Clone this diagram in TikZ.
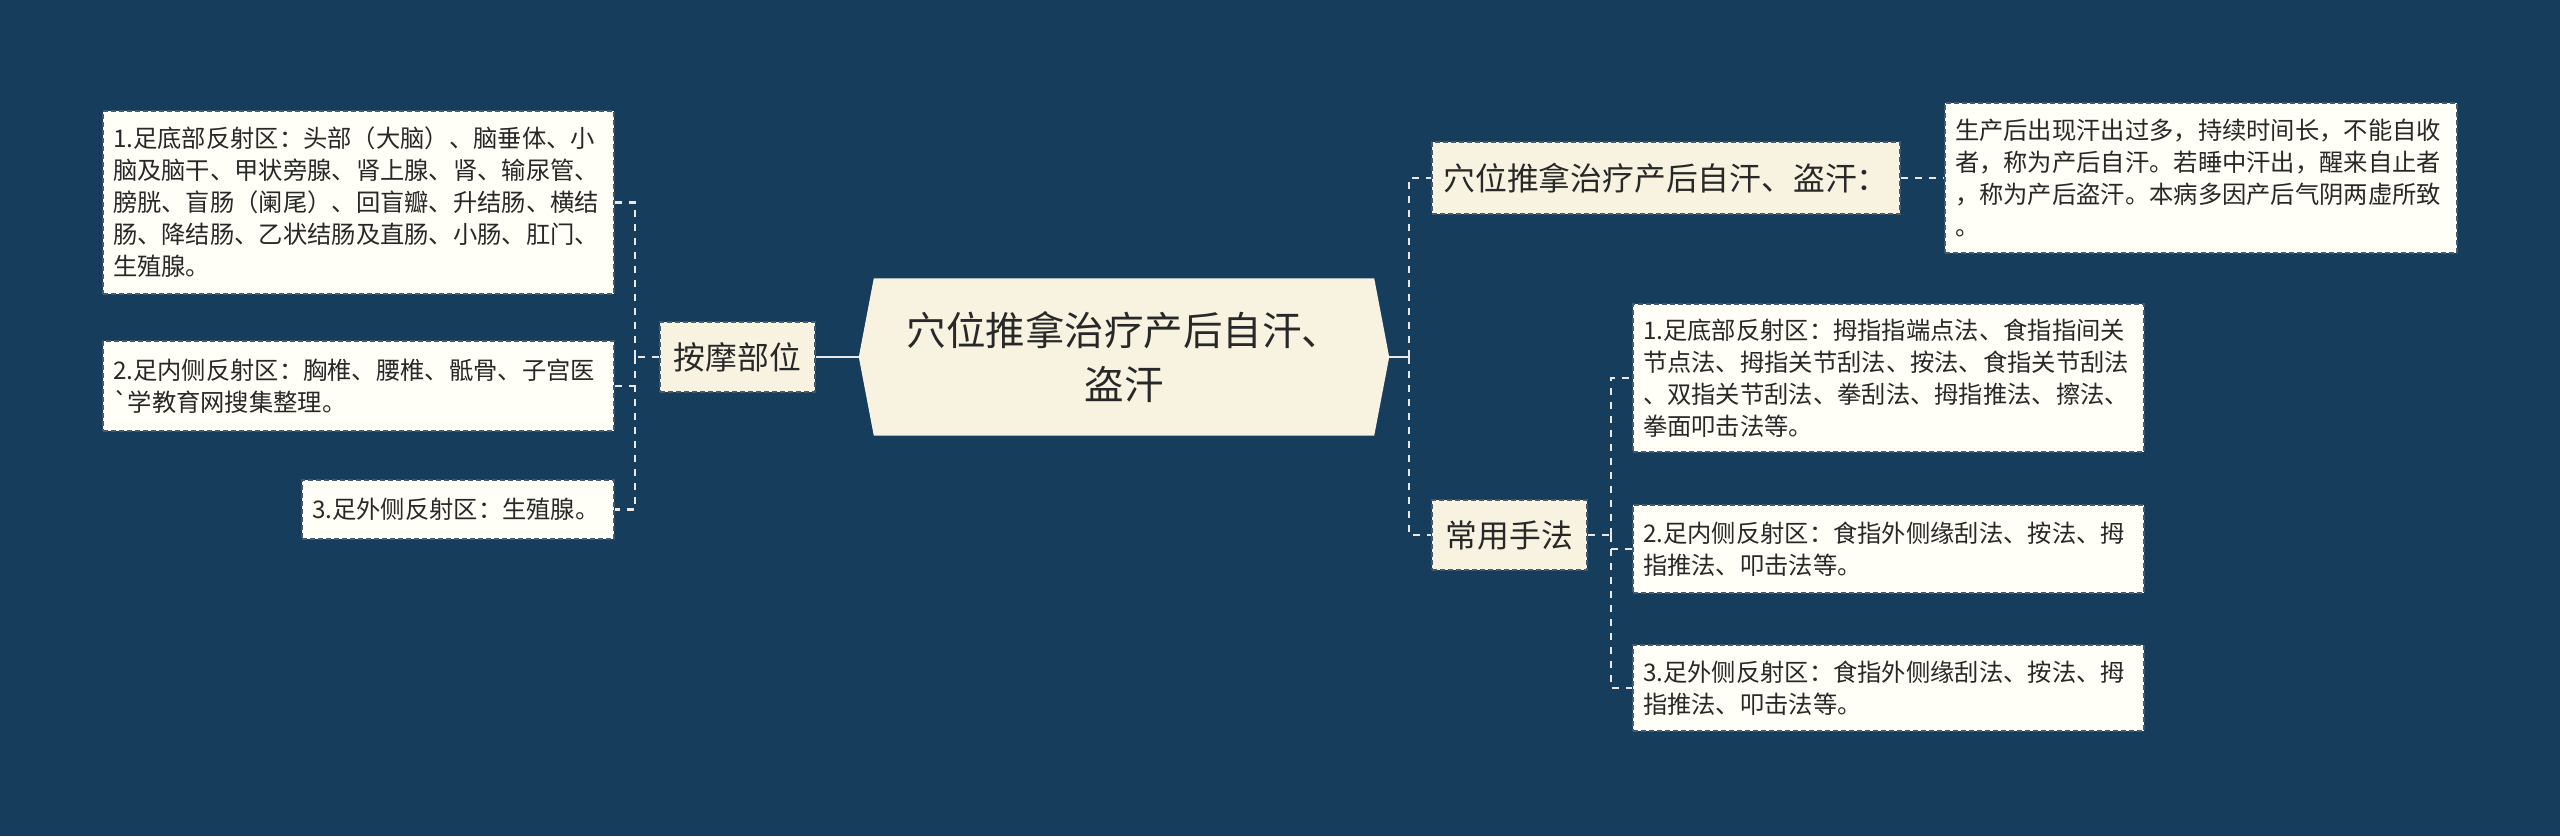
\documentclass[tikz,border=0pt]{standalone}
\usepackage{fontspec}
\newfontfamily\cjk{Noto Sans CJK SC}
\usetikzlibrary{backgrounds}
\definecolor{bgc}{RGB}{23,61,92}
\definecolor{midfill}{RGB}{248,243,224}
\definecolor{leaffill}{RGB}{255,254,247}
\definecolor{bordc}{RGB}{70,88,108}
\definecolor{linec}{RGB}{232,232,232}
\definecolor{txtc}{RGB}{40,40,40}
\newcommand\lffont{\cjk\fontsize{24.3pt}{32pt}\selectfont}
\newcommand\mdfont{\cjk\fontsize{31.8pt}{40pt}\selectfont}
\newcommand\rtfont{\cjk\fontsize{39.5pt}{54pt}\selectfont}
\tikzset{
  leaf/.style={draw=bordc, fill=leaffill, line width=1.5pt, dash pattern=on 5pt off 3pt,
    font=\lffont, text=txtc, align=left, inner xsep=10pt, inner ysep=8pt},
  mid/.style={draw=bordc, fill=midfill, line width=1.5pt, dash pattern=on 5pt off 3pt,
    font=\mdfont, text=txtc, align=center, inner sep=4pt},
  rootn/.style={font=\rtfont, text=txtc, align=center, inner sep=0pt},
  conn/.style={draw=linec, line width=2.5pt, dash pattern=on 7pt off 7pt},
  rootconn/.style={draw=linec, line width=2.5pt}
}
\begin{document}
\begin{tikzpicture}[x=1pt,y=-1pt]
\begin{scope}[on background layer]
\fill[bgc] (0,0) rectangle (2560,836);
\end{scope}
\useasboundingbox (0,0) rectangle (2560,836);

% root
\node[rootn, minimum width=500pt, minimum height=157pt] (root) at (1124,357)
  {穴位推拿治疗产后自汗、\\盗汗};
\coordinate (rootL) at ([xshift=-15pt]root.west);
\coordinate (rootR) at ([xshift=15pt]root.east);
\begin{scope}[on background layer]
\fill[midfill] (root.north west) -- (root.north east) -- (rootR) -- (root.south east)
  -- (root.south west) -- (rootL) -- cycle;
\end{scope}

% left branch
\node[mid, minimum width=155pt, minimum height=70pt] (anmo) at (737.5,357) {按摩部位};
\node[leaf, text width=491pt, minimum height=183pt] (L1) at (358.5,202.5)
  {1.足底部反射区：头部（大脑）、脑垂体、小\\脑及脑干、甲状旁腺、肾上腺、肾、输尿管、\\膀胱、盲肠（阑尾）、回盲瓣、升结肠、横结\\肠、降结肠、乙状结肠及直肠、小肠、肛门、\\生殖腺。};
\node[leaf, text width=491pt, minimum height=90pt] (L2) at (358.5,386)
  {2.足内侧反射区：胸椎、腰椎、骶骨、子宫医\\`学教育网搜集整理。};
\node[leaf, text width=292pt, minimum height=59pt] (L3) at (458,509.5)
  {3.足外侧反射区：生殖腺。};

% right branch
\node[mid, minimum width=468pt, minimum height=72pt] (xuewei) at (1666,178) {穴位推拿治疗产后自汗、盗汗：};
\node[leaf, text width=492pt, minimum height=150pt] (desc) at (2201,178)
  {生产后出现汗出过多，持续时间长，不能自收\\者，称为产后自汗。若睡中汗出，醒来自止者\\，称为产后盗汗。本病多因产后气阴两虚所致\\。};
\node[mid, minimum width=155pt, minimum height=70pt] (chang) at (1509.5,535) {常用手法};
\node[leaf, text width=491pt, minimum height=148pt] (R1) at (1888.5,378)
  {1.足底部反射区：拇指指端点法、食指指间关\\节点法、拇指关节刮法、按法、食指关节刮法\\、双指关节刮法、拳刮法、拇指推法、擦法、\\拳面叩击法等。};
\node[leaf, text width=491pt, minimum height=88pt] (R2) at (1888.5,549)
  {2.足内侧反射区：食指外侧缘刮法、按法、拇\\指推法、叩击法等。};
\node[leaf, text width=491pt, minimum height=86pt] (R3) at (1888.5,688)
  {3.足外侧反射区：食指外侧缘刮法、按法、拇\\指推法、叩击法等。};

% connectors
\coordinate (sl) at (635,357);
\coordinate (sr) at (1409,357);
\coordinate (sr2) at (1611,535);
\draw[rootconn] (rootL) -- (anmo.east);
\draw[rootconn] (rootR) -- (sr);
\draw[conn] (anmo.west) -- (sl);
\draw[conn] (sl) |- (L1.east);
\draw[conn] (sl) |- (L2.east);
\draw[conn] (sl) |- (L3.east);
\draw[conn] (sr) |- (xuewei.west);
\draw[conn] (sr) |- (chang.west);
\draw[conn] (xuewei.east) -- (desc.west);
\draw[conn] (chang.east) -- (sr2);
\draw[conn] (sr2) |- (R1.west);
\draw[conn] (sr2) |- (R2.west);
\draw[conn] (sr2) |- (R3.west);
\end{tikzpicture}
\end{document}
